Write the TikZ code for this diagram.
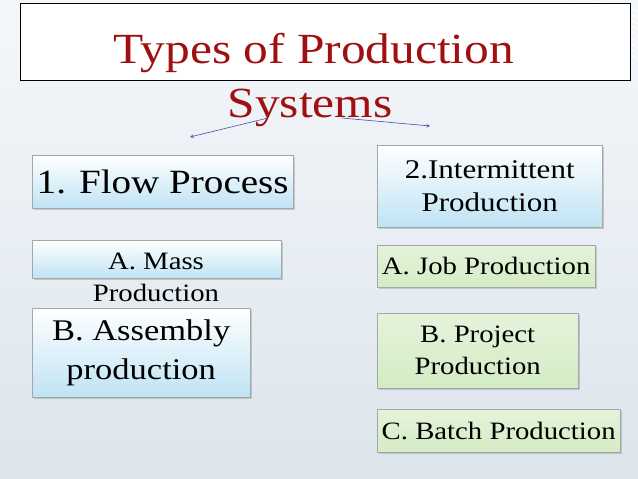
\documentclass[tikz,border=0pt]{standalone}
\usepackage{fontspec}
\setmainfont[FakeStretch=1.15]{Liberation Serif}
\usetikzlibrary{shadows}
\definecolor{bgA}{HTML}{F4F7FA}
\definecolor{bgB}{HTML}{DCE5EC}
\definecolor{tred}{HTML}{A01010}
\definecolor{bluef}{HTML}{BFE3F4}
\definecolor{greenf}{HTML}{D3ECC4}
\tikzset{
  bbox/.style={draw=gray!70, top color=white, bottom color=bluef, drop shadow={opacity=0.35,shadow xshift=2pt,shadow yshift=-2pt}, align=center, inner sep=0pt, text=black},
  gbox/.style={draw=gray!70, top color=greenf!60, bottom color=greenf, drop shadow={opacity=0.35,shadow xshift=2pt,shadow yshift=-2pt}, align=center, inner sep=0pt, text=black},
  arr/.style={draw=blue!40!gray, line width=0.6pt, ->, >=stealth}
}
\begin{document}
\begin{tikzpicture}[x=1pt,y=-1pt]
\useasboundingbox (0,0) rectangle (638,479);
\shade[top color=bgA, bottom color=bgB] (0,0) rectangle (638,479);
\foreach \i in {0,6,...,48}{\draw[white, line width=0.8pt] (560+\i,0) -- (638,{60-\i});}
\node[draw=black, fill=white, line width=0.8pt, minimum width=610, minimum height=77, anchor=north west] (title) at (20,3) {};
\node[text=tred, font=\fontsize{43}{43}\selectfont, anchor=base] (t1) at (314,63) {Types of Production};
\node[text=tred, font=\fontsize{43}{43}\selectfont, anchor=base] (t2) at (310,117) {Systems};
\coordinate (a0) at (268,118); \coordinate (a1) at (190,137);
\coordinate (b0) at (342,118); \coordinate (b1) at (430,126);
\draw[arr] (a0) -- (a1);
\draw[arr] (b0) -- (b1);
\node[bbox, minimum width=261, minimum height=53, anchor=north west, font=\fontsize{34}{34}\selectfont] (fp) at (32,155) {1. Flow Process};
\node[bbox, minimum width=225, minimum height=82, anchor=north west, font=\fontsize{27}{33}\selectfont] (ip) at (377,145) {2.Intermittent\\Production};
\node[bbox, minimum width=249, minimum height=38, anchor=north west] (mp) at (32,240) {};
\node[font=\fontsize{25}{32}\selectfont, align=center] (mpt) at (156,277) {A. Mass\\Production};
\node[bbox, minimum width=218, minimum height=89, anchor=north west, font=\fontsize{30}{39}\selectfont] (ap) at (32,308) {B. Assembly\\production};
\node[gbox, minimum width=218, minimum height=42, anchor=north west, font=\fontsize{25}{25}\selectfont] (jp) at (377,245) {A. Job Production};
\node[gbox, minimum width=201, minimum height=75, anchor=north west, font=\fontsize{25}{32}\selectfont] (pp) at (377,313) {B. Project\\Production};
\node[gbox, minimum width=243, minimum height=43, anchor=north west, font=\fontsize{25}{25}\selectfont] (bp) at (377,409) {C. Batch Production};
\end{tikzpicture}
\end{document}
